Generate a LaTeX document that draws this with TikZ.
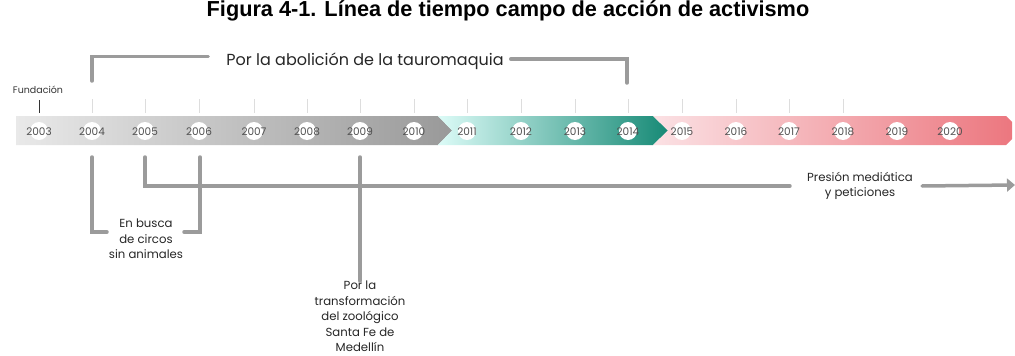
\documentclass[tikz,border=0pt]{standalone}
\usepackage{fontspec}
\setmainfont{Poppins}
\newfontfamily\titlefont{Liberation Sans}
\usetikzlibrary{arrows.meta}
\definecolor{linegray}{HTML}{9B9B9B}
\definecolor{yeargray}{HTML}{505050}
\definecolor{tickgray}{HTML}{DDDDDD}
\definecolor{grayA}{HTML}{E9E9E9}
\definecolor{grayB}{HTML}{999999}
\definecolor{tealA}{HTML}{DCFBF7}
\definecolor{tealB}{HTML}{178A76}
\definecolor{pinkA}{HTML}{FBE1E4}
\definecolor{pinkB}{HTML}{EC777F}
\begin{document}
\begin{tikzpicture}[x=1pt,y=-1pt,
        bracket/.style={draw=linegray,line width=3.5pt,line cap=round},
        note/.style={text=black!85,font=\fontsize{11.7}{15.5}\selectfont,align=center,inner sep=0pt},
        year/.style={text=yeargray,font=\fontsize{10.5}{11}\selectfont,inner sep=0pt},
        tick/.style={draw=tickgray,line width=1pt}]
        \useasboundingbox (0,0) rectangle (1015,356);
        \node (title) at (508,11) {\titlefont\bfseries\fontsize{21.7}{23}\selectfont Figura 4-1. Línea de tiempo campo de acción de activismo};
        % band
        \shade[left color=grayA,right color=grayB] (16,116) -- (438,116) -- (452,130.5) -- (438,145) -- (16,145) -- cycle;
        \shade[left color=tealA,right color=tealB] (438,116) -- (653,116) -- (668,130.5) -- (653,145) -- (438,145) -- (452,130.5) -- cycle;
        \shade[left color=pinkA,right color=pinkB] (653,116) -- (1006,116) -- (1012,122) -- (1012,139) -- (1006,145) -- (653,145) -- (668,130.5) -- cycle;
        \foreach \x in {92,145,199,254,307,360,414,467,521,575,628,682,736,789,843}
            \draw[tick] (\x,99) -- (\x,113);
        \foreach \yr/\x in {2003/39,2004/92,2005/145,2006/199,2007/254,2008/307,2009/360,2010/414,2011/467,2012/521,2013/575,2014/628,2015/682,2016/736,2017/789,2018/843,2019/897,2020/950}
            \fill[white] (\x,131) circle (9) node[year,yshift=-1pt] (y\yr) {\yr};
        \node[font=\fontsize{9.5}{11}\selectfont,text=black!80] (fund) at (38,90) {Fundación};
        \draw[black!80,line width=1pt] (39,100) -- (39,113);
        % top bracket
        \node[note,font=\fontsize{16}{18}\selectfont,inner xsep=7pt] (tauro) at (365,61) {Por la abolición de la tauromaquia};
        \coordinate (t1) at (92,81);
        \coordinate (t2) at (627,83);
        \draw[bracket] (t1) |- ([xshift=-11pt,yshift=4.5pt]tauro.west);
        \draw[bracket] ([yshift=2pt]tauro.east) -| (t2);
        % below
        \coordinate (b2004) at (92,157);
        \coordinate (b2005) at (145,157);
        \coordinate (b2006) at (200,157);
        \coordinate (b2009) at (360,157);
        \node[note] (circos) at (146,239) {En busca\\de circos\\sin animales};
        \coordinate (c1) at (107,232);
        \coordinate (c2) at (184,232);
        \draw[bracket] (b2004) |- (c1);
        \draw[bracket] (b2006) |- (c2);
        \node[note,inner xsep=9pt] (presion) at (860,186) {Presión mediática\\y peticiones};
        \coordinate (p1) at (1015,185);
        \draw[bracket] (b2005) |- ([xshift=-8pt]presion.west);
        \draw[bracket,-{Triangle[length=8pt,width=13pt]}] (presion.east) -- (p1);
        \node[note,anchor=north,inner ysep=18pt] (zoo) at (360,263) {Por la\\transformación\\del zoológico\\Santa Fe de\\Medellín};
        \draw[bracket] (b2009) -- ([yshift=-18pt]zoo.north);
    \end{tikzpicture}
\end{document}
